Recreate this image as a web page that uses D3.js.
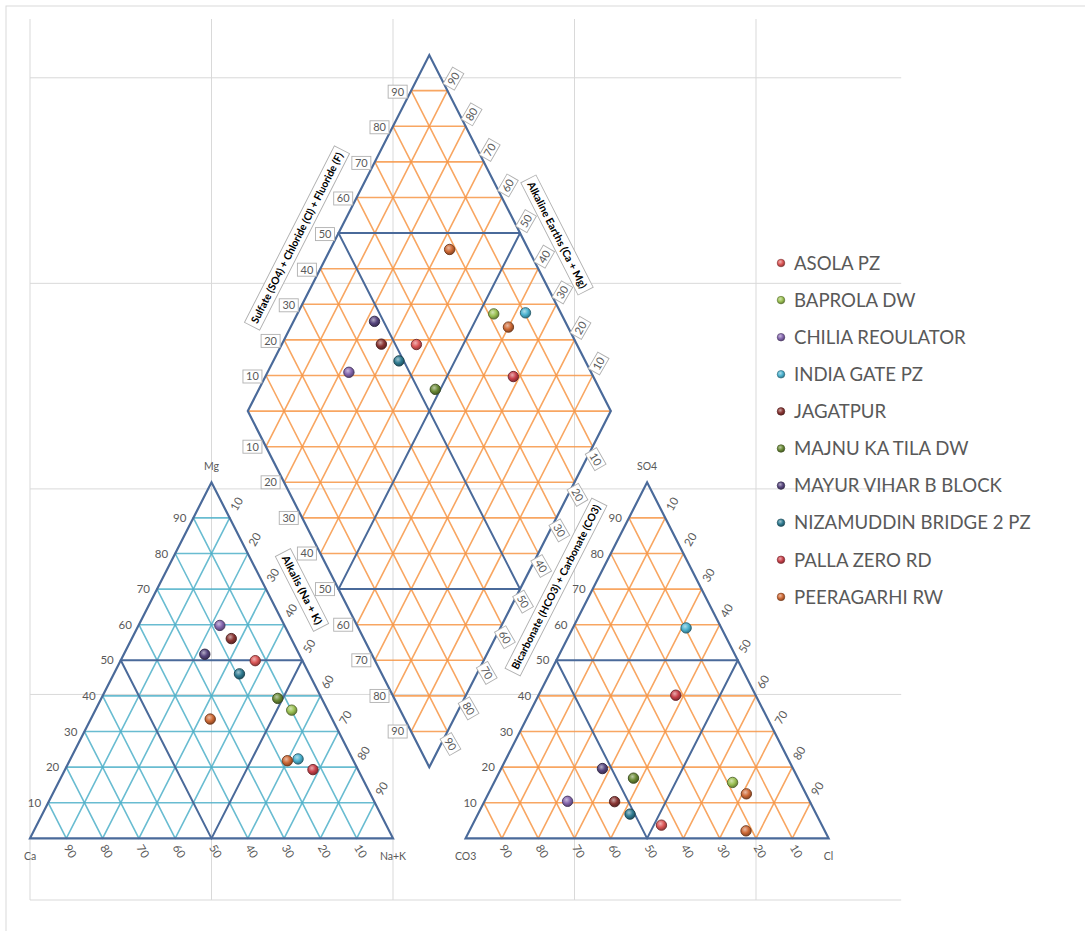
<!DOCTYPE html>
<html>
<head>
<meta charset="utf-8">
<script src="https://cdn.jsdelivr.net/npm/d3@7"></script>
<style>
  html, body { margin: 0; padding: 0; background: #fff; }
  svg { display: block; }
  text { font-family: Lato, "Open Sans", sans-serif; }
</style>
</head>
<body>
<svg id="chart" width="1085" height="931"></svg>
<script>
// ---- Stations (legend order) and their marker colours ----
const stations = ["ASOLA PZ", "BAPROLA DW", "CHILIA REOULATOR", "INDIA GATE PZ", "JAGATPUR",
  "MAJNU KA TILA DW", "MAYUR VIHAR B BLOCK", "NIZAMUDDIN BRIDGE 2 PZ", "PALLA ZERO RD", "PEERAGARHI RW"];
const stationColors = ["#dc5656", "#9bc153", "#8466ae", "#4bb2cf", "#8a3634",
  "#6a8a36", "#57467e", "#2f7b91", "#c9414b", "#cf6a36"];

// ---- Samples (one station can have several samples) ----
const sampleStation = [0, 1, 2, 3, 4, 5, 6, 7, 8, 9, 9];
// cations, % meq
const mgPct  = [49.9, 36.0, 59.8, 22.3, 56.1, 39.3, 51.7, 46.2, 19.3, 33.5, 21.8];
const naKPct = [37.1, 54.1, 22.4, 62.7, 27.4, 48.6, 22.3, 34.6, 68.3, 32.9, 60.0];
// anions, % meq
const so4Pct = [3.7, 15.7, 10.4, 59.1, 10.3, 16.9, 19.6, 6.8, 40.2, 2.1, 12.5];
const clPct  = [52.1, 65.7, 22.9, 31.2, 35.9, 37.8, 27.9, 41.9, 37.8, 76.2, 71.1];

// ---- Tick values ----
const tickValues = [10, 20, 30, 40, 50, 60, 70, 80, 90];
const gridValues = [0, 50, 100, 150, 200];

// ---- Scales (chart units: triangle side = 100) ----
const svg = d3.select("#chart");
const x = d3.scaleLinear().domain([0, 240]).range([30, 901.2]);
const y = d3.scaleLinear().domain([0, 214.3]).range([900, 19]);
const H = Math.sqrt(3) / 2;
const BASE = 15;     // triangle baseline
const GAP = 20;      // gap between triangles
const ANION_X = 100 + GAP;

const cation = (mg, nak) => [nak + mg / 2, BASE + mg * H];
const anion = (so4, cl) => [ANION_X + cl + so4 / 2, BASE + so4 * H];
// diamond point from Na+K and HCO3+CO3
const diamond = (nak, hco3) => {
  const t = 200 + GAP - hco3 - nak;
  return [nak + t / 2, BASE + t * H];
};
const px = p => [x(p[0]), y(p[1])];

const C_OUTLINE = "#4a6a9a";
const C_TEAL = "#4fb0c9";
const C_ORANGE = "#f79646";
const C_TEXT = "#595959";

// ---- chart border and background gridlines ----
svg.append("rect").attr("x", 6).attr("y", 6).attr("width", 1100).attr("height", 960)
  .attr("fill", "none").attr("stroke", "#d9d9d9").attr("stroke-width", 1);
const bg = svg.append("g");
gridValues.forEach(v => {
  bg.append("line").attr("x1", x(v)).attr("x2", x(v)).attr("y1", y(0)).attr("y2", y(214.3))
    .attr("stroke", "#d9d9d9").attr("stroke-width", 1);
  bg.append("line").attr("x1", x(0)).attr("x2", x(240)).attr("y1", y(v)).attr("y2", y(v))
    .attr("stroke", "#d9d9d9").attr("stroke-width", 1);
});

const seg = (g, a, b, color, w, op) => g.append("line")
  .attr("x1", x(a[0])).attr("y1", y(a[1])).attr("x2", x(b[0])).attr("y2", y(b[1]))
  .attr("stroke", color).attr("stroke-width", w).attr("stroke-opacity", op || 1)
  .attr("stroke-linecap", "round");

// ---- ternary triangle (cation or anion) ----
function drawTriangle(x0, minorColor) {
  const g = svg.append("g");
  const P = (mg, right) => [x0 + right + mg / 2, BASE + mg * H];
  const lines = [];
  tickValues.forEach(v => {
    lines.push([P(v, 0), P(v, 100 - v), v === 50]);              // horizontal
    lines.push([P(0, v), P(100 - v, v), v === 50]);              // parallel to left side
    lines.push([P(0, 100 - v), P(100 - v, 0), v === 50]);        // parallel to right side
  });
  lines.filter(l => !l[2]).forEach(l => seg(g, l[0], l[1], minorColor, 1.6, 0.85));
  lines.filter(l => l[2]).forEach(l => seg(g, l[0], l[1], C_OUTLINE, 2));
  g.append("path")
    .attr("d", d3.line()([P(0, 0), P(0, 100), P(100, 0)].map(px)) + "Z")
    .attr("fill", "none").attr("stroke", C_OUTLINE).attr("stroke-width", 2.2)
    .attr("stroke-linejoin", "miter");

  // left side labels (top component)
  tickValues.forEach(v => {
    const p = px(P(v, 0));
    g.append("text").attr("x", p[0] - 7).attr("y", p[1]).attr("dy", "0.35em")
      .attr("text-anchor", "end").attr("font-size", 11.5).attr("fill", C_TEXT).text(v);
  });
  // bottom labels (left corner component)
  tickValues.forEach(v => {
    const p = px(P(0, v));
    g.append("text").attr("transform", `translate(${p[0] + 4},${p[1] + 13}) rotate(60)`)
      .attr("text-anchor", "middle").attr("dy", "0.35em")
      .attr("font-size", 11.5).attr("fill", C_TEXT).text(100 - v);
  });
  // right side labels (right corner component)
  tickValues.forEach(v => {
    const p = px(P(100 - v, v));
    g.append("text").attr("transform", `translate(${p[0] + 7},${p[1] - 14}) rotate(-60)`)
      .attr("text-anchor", "middle").attr("dy", "0.35em")
      .attr("font-size", 11.5).attr("fill", C_TEXT).text(v);
  });
  return P;
}

const Pc = drawTriangle(0, C_TEAL);
const Pa = drawTriangle(ANION_X, C_ORANGE);

// corner names
const corner = (p, dy, label) => svg.append("text").attr("x", x(p[0])).attr("y", y(p[1]) + dy)
  .attr("dy", "0.35em").attr("text-anchor", "middle").attr("font-size", 10.5)
  .attr("fill", C_TEXT).text(label);
corner(Pc(100, 0), -16, "Mg");
corner(Pc(0, 0), 18, "Ca");
corner(Pc(0, 100), 18, "Na+K");
corner(Pa(100, 0), -16, "SO4");
corner(Pa(0, 0), 18, "CO3");
corner(Pa(0, 100), 18, "Cl");

// ---- diamond ----
const gd = svg.append("g");
const dLines = [];
tickValues.forEach(v => {
  dLines.push([diamond(v, 0), diamond(v, 100), v === 50]);
  dLines.push([diamond(0, v), diamond(100, v), v === 50]);
});
const hEnds = t => t >= 120
  ? [[t / 2, BASE + t * H], [220 - t / 2, BASE + t * H]]
  : [[120 - t / 2, BASE + t * H], [100 + t / 2, BASE + t * H]];
d3.range(-9, 10).forEach(k => {
  const t = 120 + 10 * k;
  const e = hEnds(t);
  dLines.push([e[0], e[1], Math.abs(k) === 5]);
});
dLines.filter(l => !l[2]).forEach(l => seg(gd, l[0], l[1], C_ORANGE, 1.6, 0.85));
dLines.filter(l => l[2]).forEach(l => seg(gd, l[0], l[1], C_OUTLINE, 2));
gd.append("path")
  .attr("d", d3.line()([diamond(100, 100), diamond(0, 100), diamond(0, 0), diamond(100, 0)].map(px)) + "Z")
  .attr("fill", "none").attr("stroke", C_OUTLINE).attr("stroke-width", 2.2);

// boxed tick labels around the diamond
function boxLabel(cx, cy, rot, label) {
  const g = svg.append("g").attr("transform", `translate(${cx},${cy}) rotate(${rot})`);
  g.append("rect").attr("x", -9.5).attr("y", -6.5).attr("width", 19).attr("height", 13)
    .attr("fill", "#fff").attr("stroke", "#b0b0b0").attr("stroke-width", 0.9);
  g.append("text").attr("text-anchor", "middle").attr("dy", "0.36em")
    .attr("font-size", 11).attr("fill", C_TEXT).text(label);
}
tickValues.forEach(v => {
  const k = v / 10;
  const up = hEnds(120 + 10 * k).map(px);
  const dn = hEnds(120 - 10 * k).map(px);
  boxLabel(up[0][0] - 13.5, up[0][1] + 1, 0, v);      // Sulfate + Chloride
  boxLabel(dn[0][0] - 13.5, dn[0][1], 0, v);          // Alkalis
  boxLabel(up[1][0] + 6, up[1][1] - 12, -60, v);      // Alkaline earths
  boxLabel(dn[1][0] + 3, dn[1][1] + 12.5, 60, v);     // Bicarbonate + carbonate
});

// axis titles in boxes
function titleLabel(cx, cy, rot, label, len) {
  const g = svg.append("g").attr("transform", `translate(${cx},${cy}) rotate(${rot})`);
  g.append("rect").attr("x", -len / 2 - 4).attr("y", -8.5).attr("width", len + 8).attr("height", 17)
    .attr("fill", "#fff").attr("stroke", "#b0b0b0").attr("stroke-width", 0.9);
  g.append("text").attr("text-anchor", "middle").attr("dy", "0.35em")
    .attr("font-size", 10.5).attr("font-weight", "bold").attr("fill", "#000")
    .attr("textLength", len).attr("lengthAdjust", "spacingAndGlyphs").text(label);
}
titleLabel(297, 238, -63, "Sulfate (SO4) + Chloride (Cl) + Fluoride (F)", 190);
titleLabel(557, 235, 63, "Alkaline Earths (Ca + Mg)", 118);
titleLabel(302, 590, 63, "Alkalis (Na + K)", 76);
titleLabel(556, 587, -63, "Bicarbonate (HCO3) + Carbonate (CO3)", 183);

// ---- sample markers ----
const defs = svg.append("defs");
stationColors.forEach((c, i) => {
  const grad = defs.append("radialGradient").attr("id", "ball" + i)
    .attr("cx", "40%").attr("cy", "35%").attr("r", "65%");
  grad.append("stop").attr("offset", "0%").attr("stop-color", d3.interpolateRgb(c, "#fff")(0.55));
  grad.append("stop").attr("offset", "55%").attr("stop-color", c);
  grad.append("stop").attr("offset", "100%").attr("stop-color", d3.color(c).darker(1.2));
});
const samples = sampleStation.map((s, i) => ({
  s, mg: mgPct[i], nak: naKPct[i], so4: so4Pct[i], cl: clPct[i],
  hco3: 100 - so4Pct[i] - clPct[i]
}));
const ball = (p, s, r) => svg.append("circle").attr("cx", x(p[0])).attr("cy", y(p[1])).attr("r", r)
  .attr("fill", `url(#ball${s})`).attr("stroke", d3.color(stationColors[s]).darker(1.8))
  .attr("stroke-width", 0.9);
samples.forEach(d => {
  ball(cation(d.mg, d.nak), d.s, 5.2);
  ball(anion(d.so4, d.cl), d.s, 5.2);
  ball(diamond(d.nak, d.hco3), d.s, 5.2);
});

// ---- legend ----
const lg = svg.append("g").attr("transform", "translate(781,263)");
stations.forEach((name, i) => {
  const row = lg.append("g").attr("transform", `translate(0,${i * 37.1})`);
  row.append("circle").attr("r", 3.8).attr("fill", `url(#ball${i})`)
    .attr("stroke", d3.color(stationColors[i]).darker(1.6)).attr("stroke-width", 0.6);
  row.append("text").attr("x", 13).attr("dy", "0.36em").attr("font-size", 18.6)
    .attr("fill", C_TEXT).text(name);
});
</script>
</body>
</html>
